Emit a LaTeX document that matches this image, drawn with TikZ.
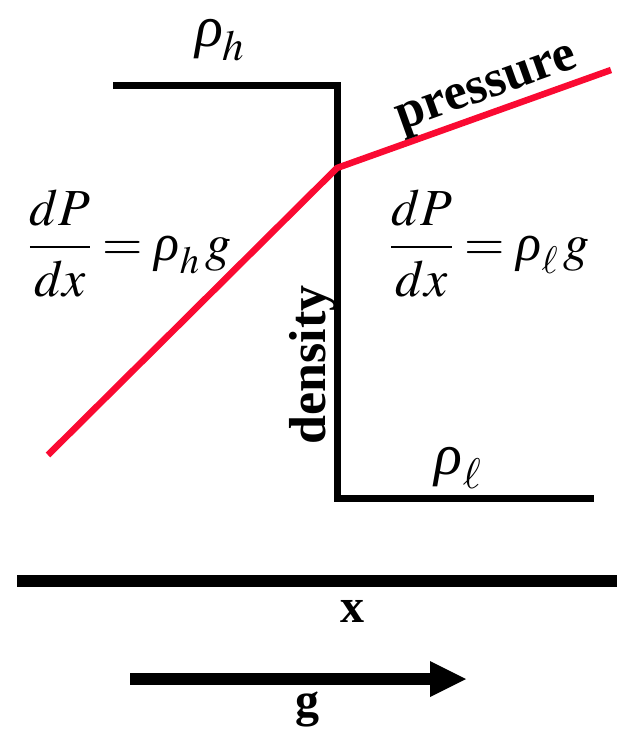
\documentclass[tikz,border=0pt]{standalone}
\usepackage{mathptmx}
\usepackage{fontspec}
\setmainfont{Liberation Serif}
\definecolor{pred}{RGB}{250,10,50}
\newcommand{\rhoit}{\mbox{\itshape ρ}}
\begin{document}
\begin{tikzpicture}[x=1pt,y=-1pt,
  dens/.style={line width=7pt,black},
  pres/.style={line width=6.5pt,pred},
  lbl/.style={inner sep=0pt,font=\fontsize{52}{60}\selectfont\bfseries},
  mth/.style={inner sep=0pt,font=\fontsize{52}{60}\selectfont}]
\useasboundingbox (0,0) rectangle (617,735);
% density step
\coordinate (d1) at (113,86);
\coordinate (d2) at (337,86);
\coordinate (d3) at (337,498);
\coordinate (d4) at (594,498);
\draw[dens] (d1) -- (d2) -- (d3) -- (d4);
% pressure
\coordinate (p1) at (48,455);
\coordinate (p2) at (337,168);
\coordinate (p3) at (611,70);
\draw[pres,line join=round] (p1) -- (p2) -- (p3);
% labels
\node[mth,font=\fontsize{58}{64}\selectfont] (rh) at (220,40) {$\rhoit_h$};
\node[mth,font=\fontsize{58}{64}\selectfont] (rl) at (458,468) {$\rhoit_\ell$};
\node[lbl,rotate=19.7] (pr) at (488,92) {pressure};
\node[lbl,rotate=90] (de) at (313,365) {density};
\node[mth] (eql) at (130,243) {$\displaystyle\frac{dP}{dx}=\rhoit_h\, g$};
\node[mth] (eqr) at (490,243) {$\displaystyle\frac{dP}{dx}=\rhoit_\ell\, g$};
% axis
\coordinate (a1) at (17,581);
\coordinate (a2) at (617,581);
\draw[line width=12pt] (a1) -- (a2);
\node[lbl,font=\fontsize{48}{50}\selectfont\bfseries] (xl) at (352,611) {x};
% g arrow
\coordinate (g1) at (130,679);
\coordinate (g2) at (430,679);
\coordinate (g3) at (466,679);
\draw[line width=12pt] (g1) -- (g2);
\fill (430,661) -- (g3) -- (430,697) -- cycle;
\node[lbl,font=\fontsize{48}{50}\selectfont\bfseries] (gl) at (307,709) {g};
\end{tikzpicture}
\end{document}
